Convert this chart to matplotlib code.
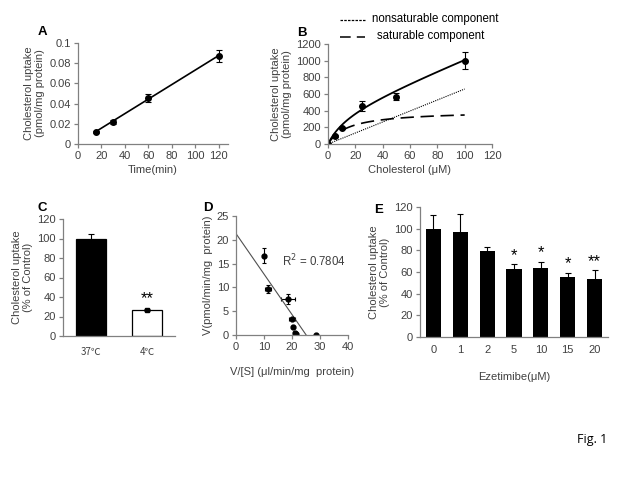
import numpy as np
import matplotlib
matplotlib.use('Agg')
import matplotlib.pyplot as plt

plt.rcParams['font.family'] = ['Liberation Sans', 'DejaVu Sans']
plt.rcParams['font.size'] = 8

#---------------------------- data ----------------------------------------

# A: time course
time_min = [15, 30, 60, 120]
uptake_a = [0.012, 0.022, 0.046, 0.087]
err_a = [0.001, 0.002, 0.004, 0.006]

# B: concentration dependence
chol_um = [0, 5, 10, 25, 50, 100]
uptake_b = [5, 100, 195, 460, 570, 1000]
err_b = [5, 10, 15, 60, 40, 100]
vmax, km, kd = 400.0, 15.0, 6.6     # fitted saturable / nonsaturable parameters

# C: temperature
temp_labels = ['37\u2103', '4\u2103']
uptake_c = [100, 27]
err_c = [5, 1]

# D: Eadie-Hofstee
v_over_s = [10, 11.5, 18.5, 20, 20.5, 21, 21.5, 28.7]
v_rate = [16.7, 9.6, 7.6, 3.3, 1.7, 0.4, 0.3, 0.1]
xerr_d = [0.3, 1.0, 2.5, 1.0, 0.3, 0.5, 0.3, 0.3]
yerr_d = [1.5, 0.8, 1.0, 0.2, 0.2, 0.2, 0.1, 0.1]
fit_d = (-0.85, 21.3)
r2_text = 'R$^2$ = 0.7804'

# E: ezetimibe
eze_labels = ['0', '1', '2', '5', '10', '15', '20']
uptake_e = [100, 97, 79, 63, 63.5, 55.5, 53.5]
err_e = [13, 17, 4, 4, 6, 4, 8]
stars_e = ['', '', '', '*', '*', '*', '**']

#---------------------------- helpers ----------------------------------------

W, H = 640, 480
AX_COL = '#808080'
TXT_COL = '#404040'


def px_axes(fig, left, top, right, bottom):
    return fig.add_axes([left / W, 1 - bottom / H, (right - left) / W, (bottom - top) / H])


def style_ax(ax, xticks=True):
    for s in ['top', 'right']:
        ax.spines[s].set_visible(False)
    for s in ['left', 'bottom']:
        ax.spines[s].set_color(AX_COL)
        ax.spines[s].set_linewidth(0.9)
    ax.tick_params(colors=AX_COL, labelcolor=TXT_COL, length=3, width=0.9, pad=2)
    if not xticks:
        ax.tick_params(axis='x', length=0, pad=6)


fig = plt.figure(figsize=(6.4, 4.8), dpi=100)

#---------------------------- A ----------------------------------------
ax = px_axes(fig, 78, 43, 228, 144)
style_ax(ax)
ax.errorbar(time_min, uptake_a, yerr=err_a, fmt='o', color='black', ms=4,
            capsize=2, elinewidth=0.8, capthick=0.8)
coef = np.polyfit(time_min, uptake_a, 1)
xx = np.array([time_min[0], time_min[-1]])
ax.plot(xx, np.polyval(coef, xx), color='black', lw=1.2)
ax.set_xlim(0, 128)
ax.set_ylim(0, 0.1)
ax.set_xticks(range(0, 121, 20))
ax.set_yticks([0, 0.02, 0.04, 0.06, 0.08, 0.1])
ax.set_yticklabels(['0', '0.02', '0.04', '0.06', '0.08', '0.1'])
ax.set_xlabel('Time(min)', color=TXT_COL, labelpad=3)
ax.set_ylabel('Cholesterol uptake\n(pmol/mg protein)', color=TXT_COL, labelpad=3)
fig.text(38 / W, 1 - 32 / H, 'A', fontsize=9.5, fontweight='bold', va='center')

#---------------------------- B ----------------------------------------
ax = px_axes(fig, 328, 44, 492, 144)
style_ax(ax)
ax.errorbar(chol_um, uptake_b, yerr=err_b, fmt='o', color='black', ms=4,
            capsize=2, elinewidth=0.8, capthick=0.8)
cc = np.linspace(0, 100, 101)
sat = vmax * cc / (km + cc)
nonsat = kd * cc
ax.plot(cc, sat + nonsat, color='black', lw=1.3)
ax.plot(cc, nonsat, color='black', lw=0.8, ls=(0, (1, 1)))
ax.plot(cc, sat, color='black', lw=1.2, ls=(0, (8, 4)))
ax.set_xlim(0, 120)
ax.set_ylim(0, 1200)
ax.set_xticks(range(0, 121, 20))
ax.set_yticks(range(0, 1201, 200))
ax.set_xlabel('Cholesterol (\u03bcM)', color=TXT_COL, labelpad=3)
ax.set_ylabel('Cholesterol uptake\n(pmol/mg protein)', color=TXT_COL, labelpad=3)
fig.text(297 / W, 1 - 33 / H, 'B', fontsize=9.5, fontweight='bold', va='center')
# legend drawn as figure lines
fig.add_artist(plt.Line2D([340 / W, 365 / W], [1 - 20 / H] * 2, color='black', lw=0.9, ls=(0, (2, 1))))
fig.add_artist(plt.Line2D([340 / W, 365 / W], [1 - 37 / H] * 2, color='black', lw=1.1, ls=(0, (7, 4))))
fig.text(372 / W, 1 - 19 / H, 'nonsaturable component', fontsize=8.3, color='black', va='center')
fig.text(377 / W, 1 - 36 / H, 'saturable component', fontsize=8.3, color='black', va='center')

#---------------------------- C ----------------------------------------
ax = px_axes(fig, 63, 219, 175, 336)
style_ax(ax, xticks=False)
xc = np.arange(len(temp_labels))
ax.bar(xc, uptake_c, width=0.54, color=['black', 'white'], edgecolor='black', lw=0.9,
       yerr=err_c, error_kw=dict(ecolor='black', elinewidth=0.8, capsize=2, capthick=0.8))
ax.plot(xc[1], uptake_c[1], 's', color='black', ms=2.5)
ax.text(xc[1], uptake_c[1] + 4, '**', ha='center', va='bottom', fontsize=12)
ax.set_xlim(-0.5, 1.5)
ax.set_ylim(0, 120)
ax.set_xticks(xc)
ax.set_xticklabels(temp_labels, family=['Noto Sans CJK SC', 'DejaVu Sans'], fontsize=7)
ax.tick_params(axis='x', pad=8)
ax.set_yticks(range(0, 121, 20))
ax.set_ylabel('Cholesterol uptake\n(% of Control)', color=TXT_COL, labelpad=3)
fig.text(37 / W, 1 - 208 / H, 'C', fontsize=9.5, fontweight='bold', va='center')

#---------------------------- D ----------------------------------------
ax = px_axes(fig, 236, 216, 348, 335)
style_ax(ax)
ax.errorbar(v_over_s, v_rate, xerr=xerr_d, yerr=yerr_d, fmt='o', color='black', ms=3.5,
            capsize=1.5, elinewidth=0.8, capthick=0.8)
xd = np.array([0, -fit_d[1] / fit_d[0]])
ax.plot(xd, fit_d[0] * xd + fit_d[1], color='#505050', lw=0.8)
ax.text(16.5, 15.5, r2_text, fontsize=8.3, color=TXT_COL, va='center')
ax.set_xlim(0, 40)
ax.set_ylim(0, 25)
ax.set_xticks(range(0, 41, 10))
ax.set_yticks(range(0, 26, 5))
ax.set_xlabel('V/[S] (\u03bcl/min/mg  protein)', color=TXT_COL, labelpad=11)
ax.set_ylabel('V(pmol/min/mg  protein)', color=TXT_COL, labelpad=3)
fig.text(203 / W, 1 - 208 / H, 'D', fontsize=9.5, fontweight='bold', va='center')

#---------------------------- E ----------------------------------------
ax = px_axes(fig, 420, 207, 608, 337)
style_ax(ax, xticks=False)
xe = np.arange(len(eze_labels))
ax.bar(xe, uptake_e, width=0.56, color='black', yerr=err_e,
       error_kw=dict(ecolor='black', elinewidth=0.8, capsize=2, capthick=0.8))
for i, s in enumerate(stars_e):
    if s:
        ax.text(xe[i], uptake_e[i] + err_e[i] + 1, s, ha='center', va='bottom', fontsize=12)
ax.set_xlim(-0.5, 6.5)
ax.set_ylim(0, 120)
ax.set_xticks(xe)
ax.set_xticklabels(eze_labels)
ax.set_yticks(range(0, 121, 20))
ax.set_xlabel('Ezetimibe(\u03bcM)', color=TXT_COL, labelpad=12)
ax.set_ylabel('Cholesterol uptake\n(% of Control)', color=TXT_COL, labelpad=3)
fig.text(374 / W, 1 - 210 / H, 'E', fontsize=9.5, fontweight='bold', va='center')

#---------------------------- figure label ----------------------------------------
fig.text(577 / W, 1 - 440 / H, 'Fig. 1', fontsize=9, family='Open Sans', color='black', va='center')

fig.savefig('out.png', dpi=100)
